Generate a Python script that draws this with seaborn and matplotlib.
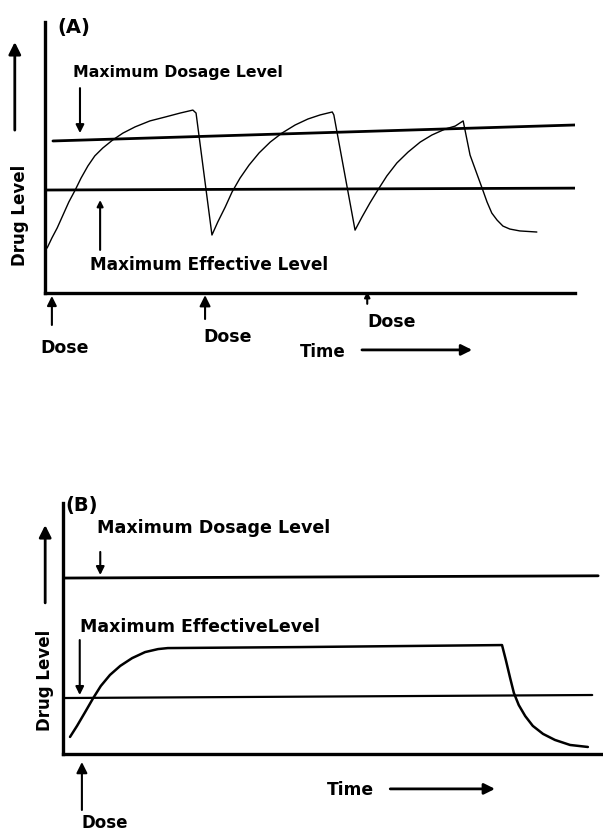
import numpy as np
import pandas as pd
import matplotlib
matplotlib.use('Agg')
import matplotlib.pyplot as plt
import seaborn as sns

# Panel A: repeated doses (time / drug level in arbitrary units 0-100)
tempo_a = [0.4, 1.3, 2.3, 3.4, 4.5, 5.7, 6.8, 8.1, 9.4, 10.9, 12.8, 14.7, 17.0,
           19.8, 22.6, 25.5, 27.9, 28.5,
           31.5, 32.6, 34.0, 35.3, 36.8, 38.5, 40.4, 42.5, 44.7, 47.2, 49.6,
           51.9, 54.2, 54.5,
           58.5, 59.8, 61.3, 62.8, 64.5, 66.4, 68.5, 70.8, 73.0, 75.5, 77.4,
           78.9, 80.2, 82.6, 83.4, 84.3, 85.3, 86.4, 87.7, 89.6, 92.8]
nivel_a = [16.6, 20.3, 24.0, 28.8, 33.6, 38.0, 42.4, 46.9, 50.6, 53.5, 56.5, 59.0, 61.3,
           63.5, 64.9, 66.4, 67.5, 66.4,
           21.4, 26.2, 31.7, 37.3, 42.4, 47.2, 51.7, 55.7, 59.0, 62.0, 64.2,
           65.7, 66.8, 65.7,
           23.2, 28.0, 33.2, 38.0, 43.2, 48.0, 52.0, 55.7, 58.3, 60.5, 61.6,
           63.5, 50.9, 38.0, 33.6, 29.5, 26.9, 24.7, 23.6, 22.9, 22.5]
dosagem_max_a = ([1.5, 100.0], [56.1, 62.0])
efetivo_max_a = ([0.0, 100.5], [38.0, 38.7])
doses_a = [1.3, 30.2, 60.8]

# Panel B: single controlled-release dose
tempo_b = [1.3, 2.6, 4.1, 5.6, 7.0, 8.7, 10.6, 12.8, 15.2, 17.6, 19.4,
           43.9, 81.3, 82.0, 82.8, 83.5, 84.4, 85.6, 87.0, 88.9, 91.1, 93.9, 97.2]
nivel_b = [6.8, 11.2, 16.7, 22.3, 27.1, 31.5, 35.1, 38.2, 40.6, 41.8, 42.2,
           42.6, 43.4, 37.5, 30.3, 24.3, 19.5, 15.1, 11.2, 8.0, 5.6, 3.6, 2.8]
dosagem_max_b = ([0.0, 99.1], [70.1, 71.0])
efetivo_max_b = ([0.0, 98.0], [22.3, 23.5])
doses_b = [3.5]

sns.set_style('white')
plt.rcParams['font.family'] = ['DejaVu Sans']
plt.rcParams['text.color'] = 'black'

fig = plt.figure(figsize=(6.03, 8.33), dpi=100)
W, H = 603, 833

def eixo(l, r, b, t):
    ax = fig.add_axes([l / W, (H - b) / H, (r - l) / W, (b - t) / H])
    ax.set_xlim(0, 100)
    ax.set_ylim(0, 100)
    ax.set_xticks([])
    ax.set_yticks([])
    for s in ['top', 'right']:
        ax.spines[s].set_visible(False)
    for s in ['left', 'bottom']:
        ax.spines[s].set_linewidth(2.4)
        ax.spines[s].set_color('black')
    return ax

def seta(ax, x0, y0, x1, y1, lw=1.5, ms=14):
    ax.annotate('', xy=(x1, y1), xytext=(x0, y0), annotation_clip=False,
                arrowprops=dict(arrowstyle='-|>', color='black', lw=lw,
                                mutation_scale=ms, shrinkA=0, shrinkB=0))

def texto(ax, x, y, s, size=11, **kw):
    ax.text(x, y, s, fontsize=size, fontweight='bold', va='center',
            ha='left', clip_on=False, color='black', **kw)

# ---------- (A) ----------
ax1 = eixo(45, 575, 293, 22)
sns.lineplot(x=tempo_a, y=nivel_a, sort=False, estimator=None, color='black',
             lw=1.0, ax=ax1)
sns.lineplot(x=dosagem_max_a[0], y=dosagem_max_a[1], color='black', lw=2.0, ax=ax1)
sns.lineplot(x=efetivo_max_a[0], y=efetivo_max_a[1], color='black', lw=2.0, ax=ax1)

texto(ax1, 2.3, 97.8, '(A)', size=14)
texto(ax1, 5.3, 81.5, 'Maximum Dosage Level', size=11.3)
seta(ax1, 6.6, 75.6, 6.6, 59.0, ms=12)
texto(ax1, 8.5, 10.3, 'Maximum Effective Level', size=12.2)
seta(ax1, 10.4, 15.9, 10.4, 34.3, ms=9)
ax1.text(-4.7, 28.8, 'Drug Level', rotation=90, fontsize=12, fontweight='bold',
         ha='center', va='center', clip_on=False, color='black')
seta(ax1, -5.7, 60.1, -5.7, 92.6, lw=2, ms=18)

# dose marks
seta(ax1, doses_a[0], -11.8, doses_a[0], -1.1, ms=14)
texto(ax1, -0.9, -20.3, 'Dose', size=12.5)
seta(ax1, doses_a[1], -9.6, doses_a[1], -0.8, ms=16)
texto(ax1, 29.8, -16.2, 'Dose', size=12.5)
seta(ax1, doses_a[2], -4.0, doses_a[2], 0.5, ms=8)
texto(ax1, 60.9, -10.7, 'Dose', size=12.5)
texto(ax1, 48.1, -21.8, 'Time', size=12)
seta(ax1, 59.8, -21.0, 80.6, -21.0, lw=2, ms=16)

# ---------- (B) ----------
ax2 = eixo(63, 603, 754, 503)
sns.lineplot(x=tempo_b, y=nivel_b, sort=False, estimator=None, color='black',
             lw=1.8, ax=ax2)
sns.lineplot(x=dosagem_max_b[0], y=dosagem_max_b[1], color='black', lw=2.0, ax=ax2)
sns.lineplot(x=efetivo_max_b[0], y=efetivo_max_b[1], color='black', lw=1.6, ax=ax2)

texto(ax2, 0.4, 99.2, '(B)', size=14)
texto(ax2, 6.3, 90.0, 'Maximum Dosage Level', size=12.6)
seta(ax2, 6.9, 80.5, 6.9, 71.3, ms=12)
texto(ax2, 3.1, 50.6, 'Maximum EffectiveLevel', size=12.5)
seta(ax2, 3.1, 45.4, 3.1, 23.5, ms=12)
ax2.text(-3.3, 29.5, 'Drug Level', rotation=90, fontsize=12, fontweight='bold',
         ha='center', va='center', clip_on=False, color='black')
seta(ax2, -3.3, 60.2, -3.3, 91.2, lw=2, ms=18)

seta(ax2, doses_b[0], -22.3, doses_b[0], -3.2, ms=16)
texto(ax2, 3.5, -27.3, 'Dose', size=12)
texto(ax2, 48.9, -14.3, 'Time', size=12.3)
seta(ax2, 60.6, -13.9, 80.0, -13.9, lw=2, ms=16)

fig.savefig('out.png', dpi=100)
